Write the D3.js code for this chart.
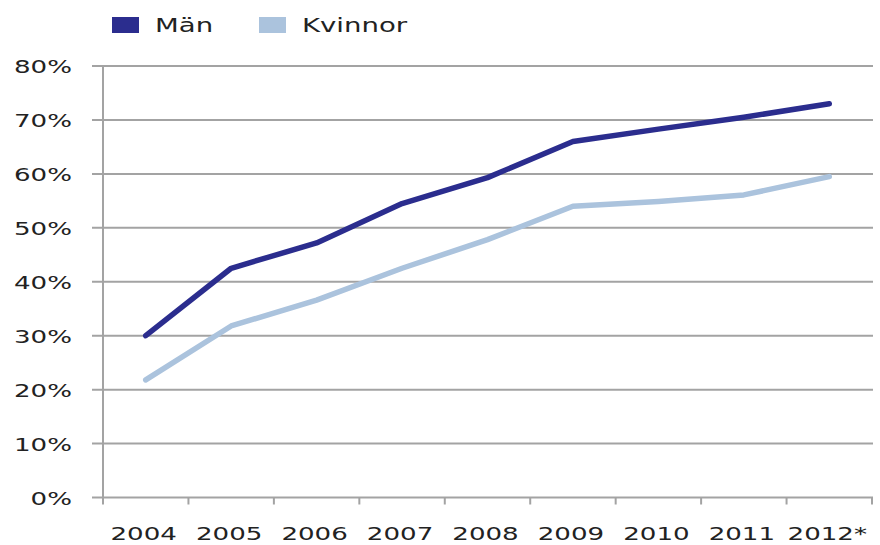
<!DOCTYPE html>
<meta charset="utf-8">
<script src="https://d3js.org/d3.v7.min.js"></script>
<style>
body { margin: 0; background: #fff; }
text { font-family: "DejaVu Sans", sans-serif; fill: #222; }
.grid line { stroke: #a3a3a3; stroke-width: 2; }
.series { fill: none; stroke-width: 5.5; stroke-linejoin: round; stroke-linecap: round; }
</style>
<body>
<script>
// data (percent)
var years = ["2004", "2005", "2006", "2007", "2008", "2009", "2010", "2011", "2012*"];
var man = [30.0, 42.5, 47.2, 54.5, 59.3, 66.0, 68.3, 70.5, 73.0];
var kvinnor = [21.8, 31.8, 36.6, 42.5, 47.8, 54.0, 54.9, 56.1, 59.5];
var yTicks = [0, 10, 20, 30, 40, 50, 60, 70, 80];
var seriesNames = ["Män", "Kvinnor"];
var colors = ["#2b2d8e", "#abc3dd"];

var width = 880, height = 545;
var sx = 1.45; // text in the picture is stretched wide

var svg = d3.select("body").append("svg")
    .attr("width", width)
    .attr("height", height);

var x = d3.scaleBand().domain(years).range([103, 872]);
var y = d3.scaleLinear().domain([0, 80]).range([497.5, 66]);

// horizontal gridlines, sticking out a bit left of the axis
var grid = svg.append("g").attr("class", "grid");
grid.selectAll("line.h").data(yTicks).enter().append("line")
    .attr("class", "h")
    .attr("x1", 92).attr("x2", 873)
    .attr("y1", function(d) { return y(d); })
    .attr("y2", function(d) { return y(d); });

// vertical axis line
grid.append("line")
    .attr("x1", x.range()[0]).attr("x2", x.range()[0])
    .attr("y1", y(80)).attr("y2", y(0) + 7);

// x tick marks at category boundaries
var bounds = years.map(function(d) { return x(d); }).concat([x.range()[1]]);
grid.selectAll("line.xt").data(bounds.slice(1)).enter().append("line")
    .attr("class", "xt")
    .attr("x1", function(d) { return d; }).attr("x2", function(d) { return d; })
    .attr("y1", y(0)).attr("y2", y(0) + 7);

// y labels
svg.selectAll("text.yl").data(yTicks).enter().append("text")
    .attr("class", "yl")
    .attr("text-anchor", "end")
    .attr("font-size", 18)
    .attr("transform", function(d) { return "translate(72," + (y(d) + 7) + ") scale(" + sx + ",1)"; })
    .text(function(d) { return d + "%"; });

// x labels
svg.selectAll("text.xl").data(years).enter().append("text")
    .attr("class", "xl")
    .attr("text-anchor", "middle")
    .attr("font-size", 18)
    .attr("transform", function(d) { return "translate(" + (x(d) + x.bandwidth() / 2 - 2) + ",540) scale(" + sx + ",1)"; })
    .text(function(d) { return d; });

// lines
var line = d3.line()
    .x(function(d, i) { return x(years[i]) + x.bandwidth() / 2; })
    .y(function(d) { return y(d); });

svg.selectAll("path.series").data([kvinnor, man]).enter().append("path")
    .attr("class", "series")
    .attr("stroke", function(d, i) { return colors[1 - i]; })
    .attr("d", line);

// legend
var legX = [112, 259];
var leg = svg.selectAll("g.leg").data(seriesNames).enter().append("g")
    .attr("class", "leg")
    .attr("transform", function(d, i) { return "translate(" + legX[i] + ",17)"; });
leg.append("rect")
    .attr("width", 27).attr("height", 16)
    .attr("fill", function(d, i) { return colors[i]; });
leg.append("text")
    .attr("font-size", 19)
    .attr("transform", "translate(43,15) scale(" + sx + ",1)")
    .text(function(d) { return d; });
</script>
</body>
